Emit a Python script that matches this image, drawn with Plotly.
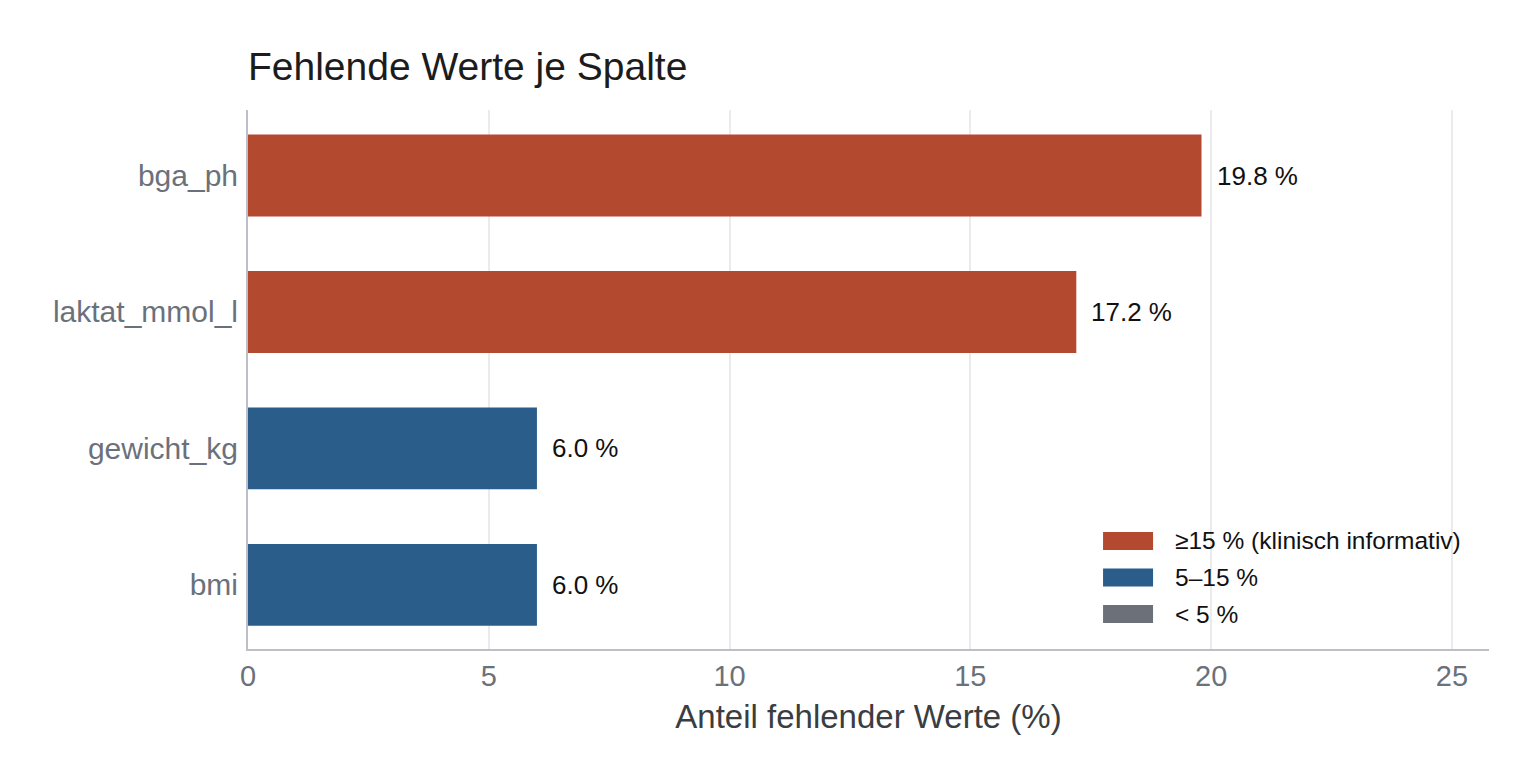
import plotly.graph_objects as go

# Data
columns = ["bga_ph", "laktat_mmol_l", "gewicht_kg", "bmi"]
missing_pct = [19.8, 17.2, 6.0, 6.0]
x_ticks = [0, 5, 10, 15, 20, 25]
legend_labels = ["≥15 % (klinisch informativ)", "5–15 %", "< 5 %"]

RED = "#b34a30"
BLUE = "#2a5d8a"
GREY = "#6b7079"
legend_colors = [RED, BLUE, GREY]


def color_for(v):
    if v >= 15:
        return RED
    if v >= 5:
        return BLUE
    return GREY


FONT = "Liberation Sans, Arial, sans-serif"

# bottom-to-top order for plotting
cols_plot = columns[::-1]
vals_plot = missing_pct[::-1]

fig = go.Figure()
fig.add_trace(go.Bar(
    x=vals_plot,
    y=cols_plot,
    orientation="h",
    width=0.6,
    marker=dict(color=[color_for(v) for v in vals_plot], line=dict(width=0)),
    showlegend=False,
    hoverinfo="x+y",
))

for c, v in zip(cols_plot, vals_plot):
    fig.add_annotation(
        x=v, y=c, xref="x", yref="y",
        text=f"{v:.1f} %", showarrow=False,
        xanchor="left", yanchor="middle", xshift=13,
        font=dict(family=FONT, size=26, color="#111111"),
    )

# manual legend (wide swatches)
row_y = [0.2004, 0.1327, 0.0649]
half_h = 0.0167
for lab, col, yc in zip(legend_labels, legend_colors, row_y):
    fig.add_shape(type="rect", xref="paper", yref="paper",
                  x0=0.6890, x1=0.7293, y0=yc - half_h, y1=yc + half_h,
                  fillcolor=col, line=dict(width=0))
    fig.add_annotation(x=0.7454, y=yc, xref="paper", yref="paper",
                       text=lab, showarrow=False, xanchor="left", yanchor="middle",
                       font=dict(family=FONT, size=24.5, color="#111111"))

fig.update_layout(
    width=1537, height=782,
    margin=dict(l=248, r=48, t=110, b=133),
    paper_bgcolor="white", plot_bgcolor="white",
    font=dict(family=FONT),
    title=dict(text="Fehlende Werte je Spalte", x=248 / 1537, xanchor="left",
               y=1 - 66 / 782, yanchor="middle", yref="container",
               font=dict(family=FONT, size=39, color="#1c1c1c")),
    xaxis=dict(
        range=[0, 25.77], tickvals=x_ticks, ticktext=[str(t) for t in x_ticks],
        showgrid=True, gridcolor="#ebebeb", gridwidth=1.5,
        showline=True, linecolor="#bdbfc4", linewidth=2,
        zeroline=False, ticks="", ticklabelstandoff=0,
        tickfont=dict(family=FONT, size=29, color="#6b717a"),
        title=dict(text="Anteil fehlender Werte (%)", standoff=14,
                   font=dict(family=FONT, size=33, color="#3a3d42")),
    ),
    yaxis=dict(
        categoryorder="array", categoryarray=cols_plot,
        range=[-0.47, 3.48],
        showgrid=False, showline=True, linecolor="#bdbfc4", linewidth=2,
        zeroline=False, ticks="", ticklabelstandoff=2,
        tickfont=dict(family=FONT, size=30, color="#6b717a"),
    ),
)

fig.write_html("out.html")
